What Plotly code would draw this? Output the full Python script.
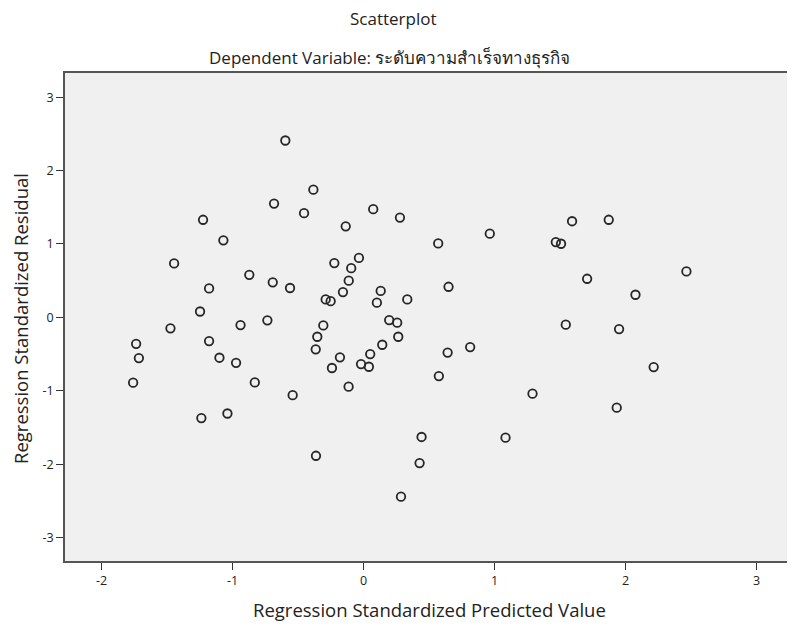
import plotly.graph_objects as go

predicted = [-0.598, -0.384, -0.684, -0.455, 0.073, 0.277, -1.226, -0.137, -1.071, -1.447,
             -0.036, -0.224, -0.095, -0.873, -0.694, -0.562, -1.180, -0.114, -0.158, 0.130,
             -0.290, -0.252, 0.101, 0.333, -1.249, 0.195, 0.256, -0.735, -0.940, -0.308,
             -1.475, -1.737, -1.716, -1.760, -1.180, -1.101, -0.974, -0.831, -0.542, -1.239,
             -1.040, -0.354, -0.366, -0.181, -0.242, -0.115, -0.020, 0.040, 0.050, 0.142,
             0.264, -0.364, 0.442, 0.427, 0.285, 0.569, 0.963, 1.591, 1.871, 1.467,
             1.507, 0.648, 1.706, 2.464, 2.075, 1.543, 1.950, 0.641, 0.813, 0.574,
             2.214, 1.289, 1.932, 1.083]
residual = [2.41, 1.74, 1.55, 1.42, 1.475, 1.36, 1.33, 1.24, 1.05, 0.735,
            0.81, 0.74, 0.67, 0.58, 0.477, 0.40, 0.395, 0.50, 0.345, 0.36,
            0.245, 0.22, 0.20, 0.245, 0.08, -0.037, -0.073, -0.04, -0.105, -0.11,
            -0.15, -0.36, -0.555, -0.89, -0.323, -0.55, -0.62, -0.886, -1.06, -1.372,
            -1.31, -0.264, -0.436, -0.545, -0.69, -0.945, -0.636, -0.673, -0.50, -0.373,
            -0.264, -1.886, -1.63, -1.985, -2.444, 1.008, 1.14, 1.31, 1.33, 1.026,
            1.003, 0.417, 0.526, 0.626, 0.308, -0.10, -0.16, -0.48, -0.405, -0.80,
            -0.677, -1.04, -1.23, -1.64]

x_ticks = [-2, -1, 0, 1, 2, 3]
x_tick_labels = ["-2", "-1", "0", "1", "2", "3"]
y_ticks = [-3, -2, -1, 0, 1, 2, 3]
y_tick_labels = ["-3", "-2", "-1", "0", "1", "2", "3"]

FONT = "Open Sans, Noto Sans, DejaVu Sans, sans-serif"

# page body has an 8px margin; compensate so the screen positions match
OFF = 8
W, H = 795, 637
l, t = 65 - OFF, 73 - OFF
r = W - (792.5 - OFF)
b = H - (561 - OFF)
pw, ph = W - l - r, H - t - b


def px(xs):
    return (xs - OFF - l) / pw


def py(ys):
    return (H - b - (ys - OFF)) / ph


fig = go.Figure(go.Scatter(
    x=predicted, y=residual, mode="markers",
    marker=dict(symbol="circle-open", size=8.5, color="#262626", line=dict(width=1.8, color="#262626")),
    hoverinfo="x+y", showlegend=False,
))

axis_common = dict(showgrid=False, zeroline=False, showline=True, linecolor="#555555", linewidth=1.5,
                   mirror=True, ticks="outside", ticklen=7, tickwidth=1.3, tickcolor="#333333",
                   tickfont=dict(size=12.5, color="#222222", family=FONT))

fig.update_layout(
    width=W, height=H,
    margin=dict(l=l, r=r, t=t, b=b, autoexpand=False),
    paper_bgcolor="white", plot_bgcolor="#f0f0f0",
    font=dict(family=FONT, color="#222222"),
    xaxis=dict(range=[-2.28, 3.27], tickvals=x_ticks, ticktext=x_tick_labels, **axis_common),
    yaxis=dict(range=[-3.32, 3.33], tickvals=y_ticks, ticktext=y_tick_labels, **axis_common),
    annotations=[
        dict(text="Scatterplot", x=px(394), y=py(18), xref="paper", yref="paper", showarrow=False,
             font=dict(size=17), xanchor="center", yanchor="middle"),
        dict(text="Dependent Variable: ระดับความสำเร็จทางธุรกิจ", x=px(390), y=py(58), xref="paper",
             yref="paper", showarrow=False, font=dict(size=17), xanchor="center", yanchor="middle"),
        dict(text="Regression Standardized Predicted Value", x=px(430), y=py(609), xref="paper",
             yref="paper", showarrow=False, font=dict(size=18.5), xanchor="center", yanchor="middle"),
        dict(text="Regression Standardized Residual", x=px(20), y=py(319), xref="paper", yref="paper",
             showarrow=False, font=dict(size=18.5), textangle=-90, xanchor="center", yanchor="middle"),
    ],
)

fig.write_html("out.html")
